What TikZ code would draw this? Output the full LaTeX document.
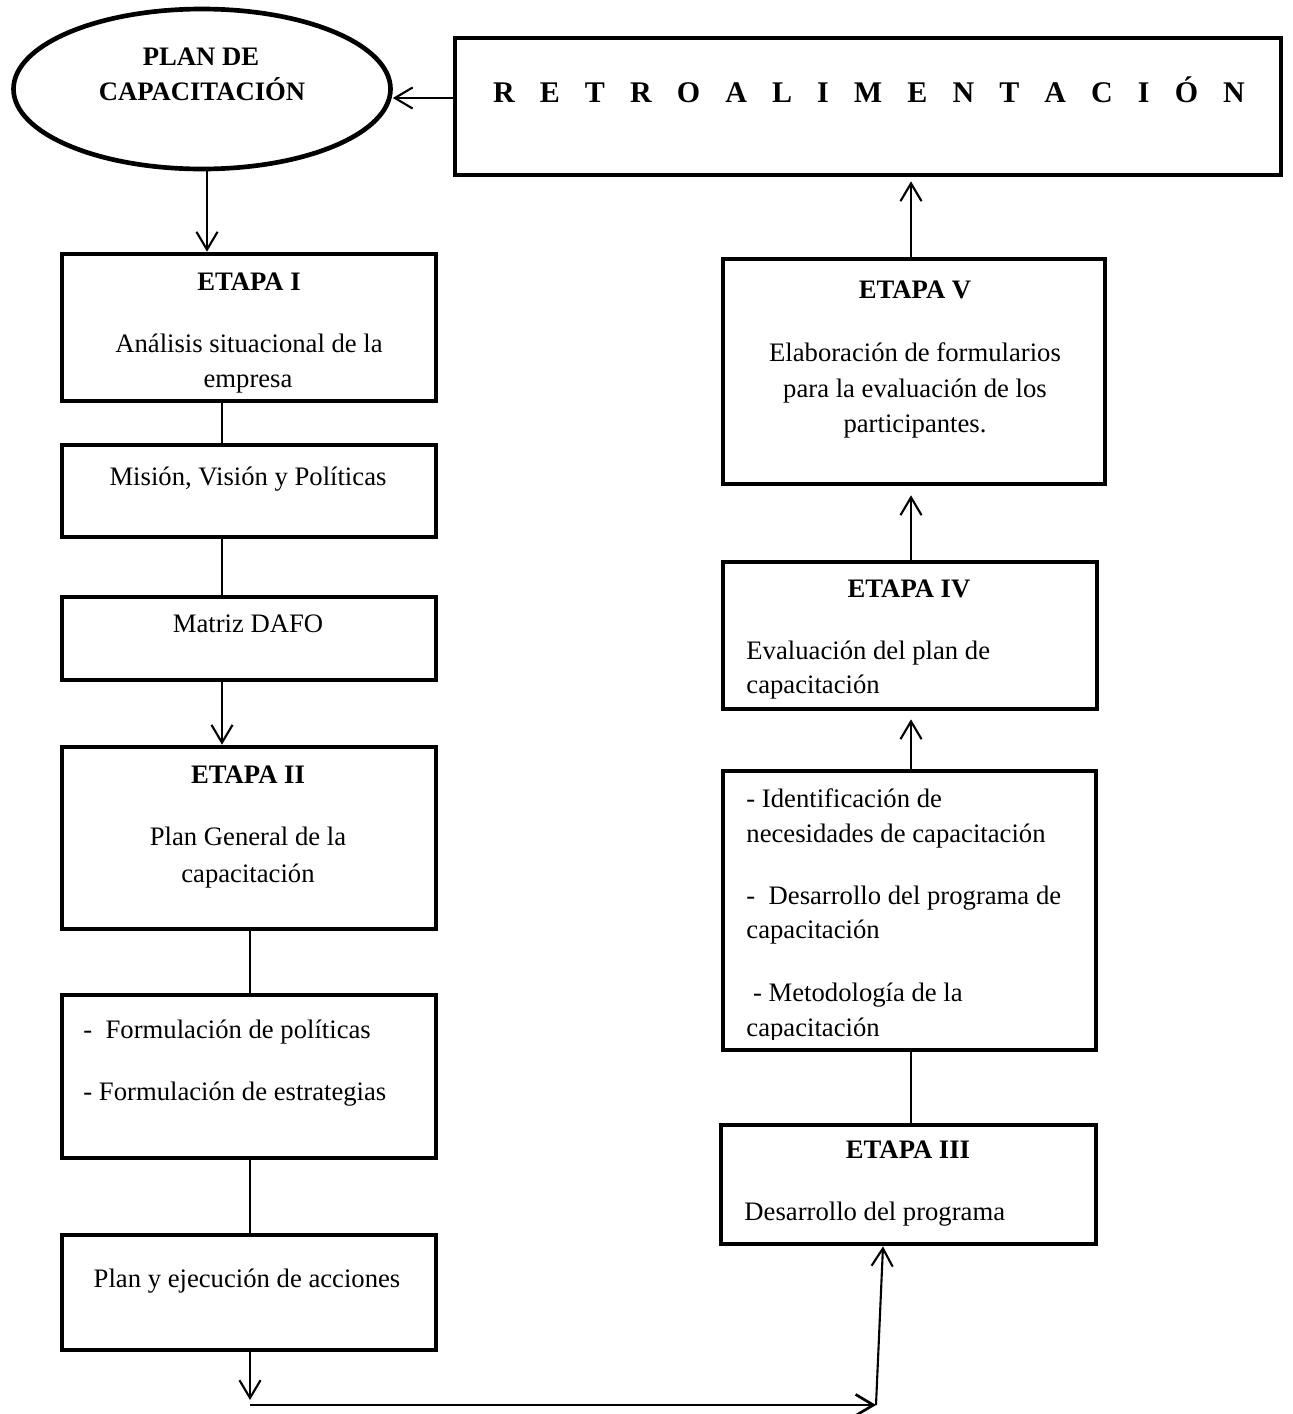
\documentclass[tikz,border=0pt]{standalone}
\usepackage{fontspec}
\setmainfont{Liberation Serif}
\usetikzlibrary{shapes.geometric,arrows.meta,calc}
\newlength{\retrogap}\setlength{\retrogap}{11.3pt}
\begin{document}
\begin{tikzpicture}[x=0.45pt,y=-0.45pt,
  box/.style={draw, line width=2.1pt, rectangle, inner sep=0pt},
  pbox/.style 2 args={box, minimum width={#1*0.45pt}, minimum height={#2*0.45pt}},
  conn/.style={line width=0.95pt},
  arr/.style={conn, -{Straight Barb[length=8pt,width=9.5pt]}},
  txt/.style={inner sep=0pt, anchor=base, font=\fontsize{12}{14}\selectfont},
  ltxt/.style={txt, anchor=base west},
  btxt/.style={txt, font=\fontsize{12}{14}\selectfont\bfseries}]
\fill[white] (0,0) rectangle (1293,1414);
\useasboundingbox (0,0) rectangle (1293,1414);

% ---- shapes ----
\node[draw, ellipse, line width=2.1pt, inner sep=0pt,
      minimum width={377*0.45pt}, minimum height={160*0.45pt}] (cap) at (202,89) {};
\node[pbox={826}{137}] (retro) at (868,106.5) {};

\node[pbox={374}{147}] (e1)   at (249,327.5) {};
\node[pbox={374}{92}]  (mis)  at (249,491) {};
\node[pbox={374}{83}]  (dafo) at (249,638.5) {};
\node[pbox={374}{182}] (e2)   at (249,838) {};
\node[pbox={374}{163}] (form) at (249,1076.5) {};
\node[pbox={374}{115}] (plan) at (249,1292.5) {};

\node[pbox={382}{225}] (e5)    at (914,371.5) {};
\node[pbox={374}{147}] (e4)    at (910,635.5) {};
\node[pbox={373}{279}] (ident) at (909.5,910.5) {};
\node[pbox={375}{119}] (e3)    at (908.5,1184.5) {};

% ---- texts ----
\node[btxt] (capA) at (201,65) {PLAN DE};
\node[btxt] (capB) at (202,100) {CAPACITACIÓN};
\node[txt, font=\fontsize{13.5}{16}\selectfont\bfseries] (retroT) at (869,102)
  {R\hspace{\retrogap}E\hspace{\retrogap}T\hspace{\retrogap}R\hspace{\retrogap}O\hspace{\retrogap}A\hspace{\retrogap}L\hspace{\retrogap}I\hspace{\retrogap}M\hspace{\retrogap}E\hspace{\retrogap}N\hspace{\retrogap}T\hspace{\retrogap}A\hspace{\retrogap}C\hspace{\retrogap}I\hspace{\retrogap}Ó\hspace{\retrogap}N};

\node[btxt] (e1a) at (249,290) {ETAPA I};
\node[txt]  (e1b) at (249,352) {Análisis situacional de la};
\node[txt]  (e1c) at (248,387) {empresa};
\node[txt]  (misa) at (248,485) {Misión, Visión y Políticas};
\node[txt]  (dafoa) at (248,632) {Matriz DAFO};
\node[btxt] (e2a) at (248,783) {ETAPA II};
\node[txt]  (e2b) at (248,845) {Plan General de la};
\node[txt]  (e2c) at (248,882) {capacitación};
\node[ltxt] (forma) at (83,1038) {-\ \ Formulación de políticas};
\node[ltxt] (formb) at (83,1100) {- Formulación de estrategias};
\node[txt]  (plana) at (247,1287) {Plan y ejecución de acciones};

\node[btxt] (e5a) at (915,298) {ETAPA V};
\node[txt]  (e5b) at (915,361) {Elaboración de formularios};
\node[txt]  (e5c) at (915,397) {para la evaluación de los};
\node[txt]  (e5d) at (915,432) {participantes.};
\node[btxt] (e4a) at (909,597) {ETAPA IV};
\node[ltxt] (e4b) at (746,659) {Evaluación del plan de};
\node[ltxt] (e4c) at (746,693) {capacitación};
\node[ltxt] (id1) at (746,807) {- Identificación de};
\node[ltxt] (id2) at (746,842) {necesidades de capacitación};
\node[ltxt] (id3) at (746,904) {-\ \ Desarrollo del programa de};
\node[ltxt] (id4) at (746,938) {capacitación};
\node[ltxt] (id5) at (746,1001) {\ - Metodología de la};
\begin{scope}
  \clip (700,1010) rectangle (1120,1039);
  \node[ltxt] (id6) at (746,1036) {capacitación};
\end{scope}
\node[btxt] (e3a) at (908,1158) {ETAPA III};
\node[ltxt] (e3b) at (744,1220) {Desarrollo del programa};

% ---- connectors ----
\coordinate (cx) at (207,0);
\coordinate (lx) at (222,0);
\coordinate (mx) at (250,0);
\coordinate (rx) at (911,0);
\coordinate (fb) at ($(retro.west)+(0,-8.5)$);
\coordinate (drop) at (250,1400);
\coordinate (turnA) at (250,1405);
\coordinate (turnB) at (876,1405);
\coordinate (e3in) at (883,0);

\draw[arr] (fb) -- (fb -| cap.east);
\draw[arr] (cap.south -| cx) -- (e1.north -| cx);
\draw[conn] (e1.south -| lx) -- (mis.north -| lx);
\draw[conn] (mis.south -| lx) -- (dafo.north -| lx);
\draw[arr] (dafo.south -| lx) -- (e2.north -| lx);
\draw[conn] (e2.south -| mx) -- (form.north -| mx);
\draw[conn] (form.south -| mx) -- (plan.north -| mx);
\draw[arr] (plan.south -| mx) -- (drop);
\draw[arr, line width=1.2pt] (turnA) -- (turnB);
\draw[arr] (turnB) -- (e3.south -| e3in);
\draw[conn] (e3.north -| rx) -- (ident.south -| rx);
\draw[arr] (ident.north -| rx) -- ($(e4.south -| rx)+(0,8)$);
\draw[arr] (e4.north -| rx) -- ($(e5.south -| rx)+(0,9)$);
\draw[arr] (e5.north -| rx) -- ($(retro.south -| rx)+(0,4)$);
\end{tikzpicture}
\end{document}
